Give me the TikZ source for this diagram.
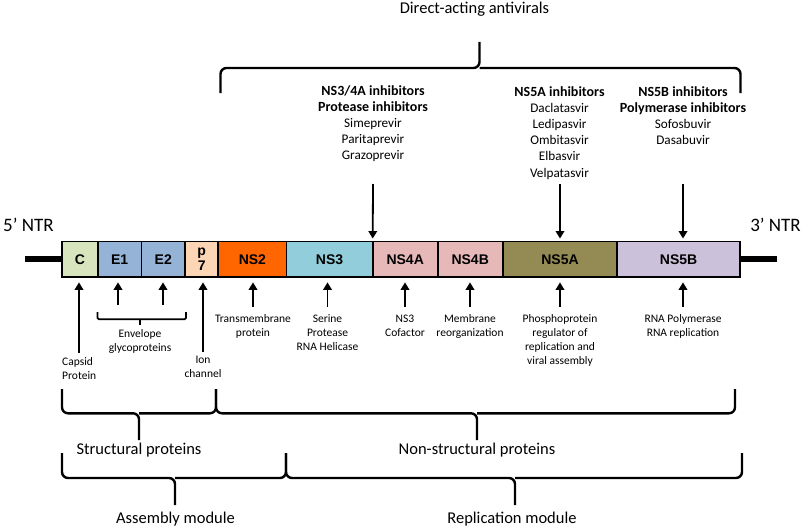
\documentclass[tikz,border=0pt]{standalone}
\usepackage{fontspec}
\setmainfont{Carlito}
\newfontfamily\arialfont{Liberation Sans}
\usetikzlibrary{arrows.meta}
\definecolor{cC}{HTML}{D7E4BD}
\definecolor{cE}{HTML}{95B3D7}
\definecolor{cP}{HTML}{FCD5B5}
\definecolor{cNStwo}{HTML}{FF6600}
\definecolor{cNSthree}{HTML}{92CDDC}
\definecolor{cNSfour}{HTML}{E6B9B8}
\definecolor{cNSfiveA}{HTML}{948A54}
\definecolor{cNSfiveB}{HTML}{CCC1DA}
\newcommand\drughead[1]{{\fontsize{14}{16.2}\selectfont\bfseries #1}}
\begin{document}
\begin{tikzpicture}[x=1pt,y=-1pt,
  seg/.style={draw, line width=1.8pt, outer sep=0pt, inner sep=0pt, minimum height=35.3pt, anchor=west, font=\arialfont\fontsize{14}{13}\selectfont\bfseries},
  small/.style={font=\fontsize{11.5}{14}\selectfont, align=center, inner sep=0pt, anchor=north},
  big/.style={font=\fontsize{16.5}{20}\selectfont, inner sep=0pt},
  ntr/.style={font=\fontsize{19}{22}\selectfont, inner sep=0pt},
  drug/.style={font=\fontsize{13.2}{16.2}\selectfont, align=center, inner sep=0pt, anchor=north},
  uparr/.style={line width=1.8pt, -{Triangle[length=7.5pt,width=8.5pt]}, shorten >=5.5pt},
  downarr/.style={line width=1.8pt, -{Triangle[length=7.5pt,width=8.5pt]}, shorten >=3pt},
  brace/.style={line width=2.4pt, rounded corners=6pt},
]
\useasboundingbox (0,0) rectangle (805,527);

% genome bar
\coordinate (lend) at (25,259.2);
\coordinate (rend) at (777,259.2);
\node[seg, fill=cC, minimum width=35.7pt] (C) at (62,259.2) {C};
\node[seg, fill=cE, minimum width=43.8pt] (E1) at (C.east) {E1};
\node[seg, fill=cE, minimum width=43.5pt] (E2) at (E1.east) {E2};
\node[seg, fill=cP, minimum width=33.3pt, align=center, font=\arialfont\fontsize{14}{14.5}\selectfont\bfseries] (p7) at (E2.east) {p\\7};
\node[seg, fill=cNStwo, minimum width=68.2pt] (NS2) at (p7.east) {NS2};
\node[seg, fill=cNSthree, minimum width=86.2pt] (NS3) at (NS2.east) {NS3};
\node[seg, fill=cNSfour, minimum width=65pt] (NS4A) at (NS3.east) {NS4A};
\node[seg, fill=cNSfour, minimum width=65pt] (NS4B) at (NS4A.east) {NS4B};
\node[seg, fill=cNSfiveA, minimum width=114.6pt] (NS5A) at (NS4B.east) {NS5A};
\node[seg, fill=cNSfiveB, minimum width=122.7pt] (NS5B) at (NS5A.east) {NS5B};
\draw[line width=6.5pt] (lend) -- (C.west);
\draw[line width=6.5pt] (NS5B.east) -- (rend);

\node[ntr] (ntr5) at (28.5,225) {5’ NTR};
\node[ntr] (ntr3) at (775.5,225) {3’ NTR};

% direct-acting antivirals
\node[big] (daa) at (474.5,9) {Direct-acting antivirals};
\draw[brace] (220.5,93) |- (479.5,68) -- (479.5,42);
\draw[brace] (740.5,93) |- (479.5,68);

\node[drug] (g34) at (373,85) {\drughead{NS3/4A inhibitors}\\\drughead{Protease inhibitors}\\Simeprevir\\Paritaprevir\\Grazoprevir};
\node[drug] (g5a) at (559.5,86) {\drughead{NS5A inhibitors}\\Daclatasvir\\Ledipasvir\\Ombitasvir\\Elbasvir\\Velpatasvir};
\node[drug] (g5b) at (683,86) {\drughead{NS5B inhibitors}\\\drughead{Polymerase inhibitors}\\Sofosbuvir\\Dasabuvir};

\coordinate (d34) at (373,184);
\coordinate (d5a) at (560,184);
\coordinate (d5b) at (683,184);
\draw[downarr] (d34) -- (NS4A.north west);
\draw[downarr] (d5a) -- (d5a |- NS5A.north);
\draw[downarr] (d5b) -- (d5b |- NS5B.north);

% functions below
\node[small, anchor=north west, align=left] (lC) at (62,357.3) {Capsid\\Protein};
\coordinate (ca) at (79,353);
\draw[uparr] (ca) -- (ca |- C.south);

\coordinate (e1a) at (118,305);
\coordinate (e2a) at (163,305);
\draw[uparr] (e1a) -- (e1a |- E1.south);
\draw[uparr] (e2a) -- (e2a |- E2.south);
\draw[line width=1.8pt, rounded corners=1.5pt] (97.5,312) |- (186,319.3) -- (186,312);
\draw[line width=1.8pt] (140,319.3) -- (140,325);
\node[small] (lE) at (140,329.5) {Envelope\\glycoproteins};

\node[small] (lp7) at (203,355.5) {Ion\\channel};
\draw[uparr] ([yshift=3.5pt]lp7.north) -- (lp7.north |- p7.south);

\node[small] (lNS2) at (253,314.6) {Transmembrane\\protein};
\node[small] (lNS3) at (327.5,314.6) {Serine\\Protease\\RNA Helicase};
\node[small] (lNS4A) at (405,314.6) {NS3\\Cofactor};
\node[small] (lNS4B) at (470,314.6) {Membrane\\reorganization};
\node[small] (lNS5A) at (560,314.6) {Phosphoprotein\\regulator of\\replication and\\viral assembly};
\node[small] (lNS5B) at (683,314.6) {RNA Polymerase\\RNA replication};
\foreach \l/\b in {lNS2/NS2, lNS3/NS3, lNS4A/NS4A, lNS4B/NS4B, lNS5A/NS5A, lNS5B/NS5B}
  \draw[uparr] ([yshift=8pt]\l.north) -- (\l.north |- \b.south);

% bottom braces
\draw[brace] (62,389) |- (139,413.3) -- (139,440);
\draw[brace] (216,389) |- (139,413.3);
\draw[brace] (216,389) |- (477,413.3) -- (477,440);
\draw[brace] (735,389) |- (477,413.3);
\node[big] (struct) at (139,450) {Structural proteins};
\node[big] (nonstruct) at (477,450) {Non-structural proteins};

\draw[brace] (62,453) |- (175,478) -- (175,505);
\draw[brace] (286,453) |- (175,478);
\draw[brace] (286,453) |- (515,478) -- (515,505);
\draw[brace] (742,453) |- (515,478);
\node[big] (assembly) at (175.5,519) {Assembly module};
\node[big] (replication) at (512,519) {Replication module};
\end{tikzpicture}
\end{document}
